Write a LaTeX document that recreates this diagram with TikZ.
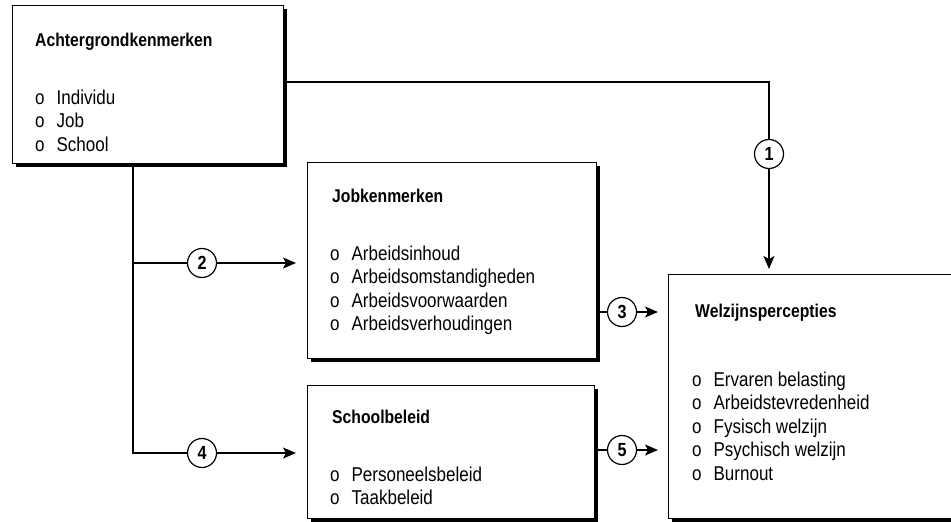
\documentclass[tikz,border=0pt]{standalone}
\usepackage{fontspec}
\setmainfont[FakeStretch=0.85]{Liberation Sans}
\usetikzlibrary{arrows.meta,shadows}
\newcommand{\bul}{o\hspace{12pt}}

\begin{document}
\begin{tikzpicture}[x=1pt, y=-1pt,
    box/.style={draw, line width=1.2pt, fill=white, inner sep=0pt, anchor=north west,
        drop shadow={shadow xshift=3.5pt, shadow yshift=-3.5pt, fill=black, opacity=1}},
    box_title/.style={anchor=base west, inner sep=0pt, font=\fontsize{18.5}{21}\selectfont\bfseries},
    box_list/.style={anchor=north west, inner sep=0pt, align=left, font=\fontsize{20}{23.5}\selectfont},
    num/.style={draw, circle, line width=1.2pt, fill=white, minimum size=29pt, inner sep=0pt,
        font=\fontsize{19}{19}\selectfont\bfseries},
    conn/.style={line width=1.3pt},
    arr/.style={conn, -{Stealth[length=13pt, width=11pt, inset=3pt]}}
]
    \useasboundingbox (0,0) rectangle (951,522);
    % Blokken
    \node[box, minimum width=271pt, minimum height=158pt] (achter) at (12,5) {};
    \node[box, minimum width=289pt, minimum height=196pt] (job) at (307,162) {};
    \node[box, minimum width=287pt, minimum height=133pt] (school) at (307,385) {};
    \node[box, minimum width=300pt, minimum height=244pt] (welzijn) at (668,274) {};
    % Teksten
    \node[box_title] (achter_t) at (35,46) {Achtergrondkenmerken};
    \node[box_list] (achter_l) at (35,89.5) {\bul Individu\\\bul Job\\\bul School};
    \node[box_title] (job_t) at (332,202) {Jobkenmerken};
    \node[box_list] (job_l) at (330,245.5) {\bul Arbeidsinhoud\\\bul Arbeidsomstandigheden\\
        \bul Arbeidsvoorwaarden\\\bul Arbeidsverhoudingen};
    \node[box_title] (school_t) at (332,423) {Schoolbeleid};
    \node[box_list] (school_l) at (330,466.5) {\bul Personeelsbeleid\\\bul Taakbeleid};
    \node[box_title] (welzijn_t) at (695,317) {Welzijnspercepties};
    \node[box_list] (welzijn_l) at (692,371.5) {\bul Ervaren belasting\\\bul Arbeidstevredenheid\\
        \bul Fysisch welzijn\\\bul Psychisch welzijn\\\bul Burnout};
    % Nummers
    \node[num] (c1) at (769,154) {1};
    \node[num] (c2) at (202,263) {2};
    \node[num] (c3) at (622,312) {3};
    \node[num] (c4) at (202,453) {4};
    \node[num] (c5) at (622,450) {5};
    % Verbindingen
    \coordinate (k1) at (769,82);
    \coordinate (k2) at (133,263);
    \coordinate (k4) at (133,453);
    \draw[conn] (achter.east |- k1) -- (k1) -- (c1);
    \draw[arr, shorten >=5pt] (c1) -- (welzijn.north -| c1);
    \draw[conn] (achter.south -| k2) -- (k4) -- (c4);
    \draw[conn] (k2) -- (c2);
    \draw[arr, shorten >=11pt] (c2) -- (job.west |- c2);
    \draw[arr, shorten >=11pt] (c4) -- (school.west |- c4);
    \draw[conn] (job.east |- c3) -- (c3);
    \draw[arr, shorten >=10pt] (c3) -- (welzijn.west |- c3);
    \draw[conn] (school.east |- c5) -- (c5);
    \draw[arr, shorten >=10pt] (c5) -- (welzijn.west |- c5);
\end{tikzpicture}
\end{document}
